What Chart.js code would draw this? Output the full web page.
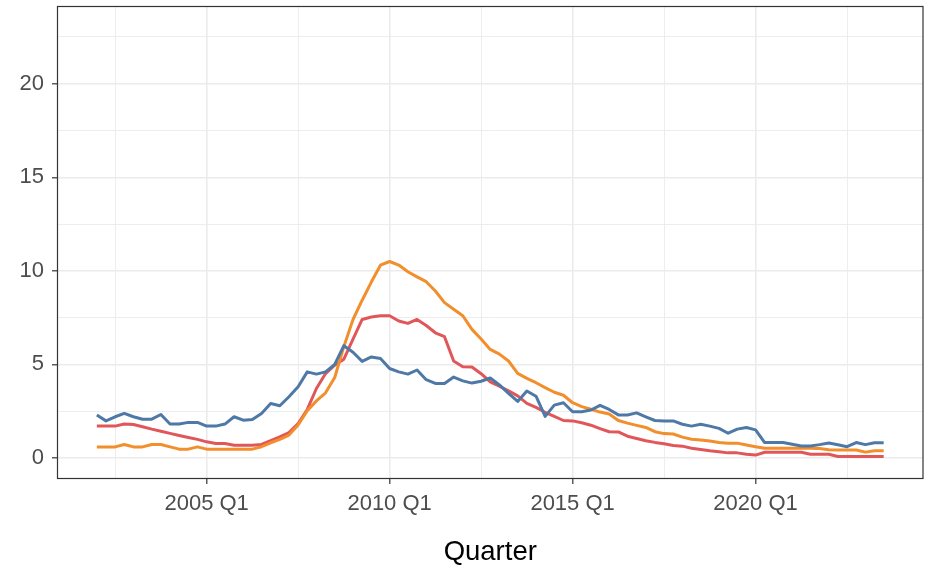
<!DOCTYPE html>
<html>
<head>
<meta charset="utf-8">
<script src="https://cdn.jsdelivr.net/npm/chart.js@4/dist/chart.umd.min.js"></script>
<style>
    html, body { margin: 0; padding: 0; background: #ffffff; }
    #wrap { width: 930px; height: 569px; }
</style>
</head>
<body>
<div id="wrap"><canvas id="chart"></canvas></div>
<script>
// quarters from 2002 Q1 to 2023 Q3
const firstYear = 2002;
const quarterCount = 87;
const quarters = [];
const quarterPos = [];
for (let i = 0; i < quarterCount; i++) {
    const year = firstYear + Math.floor(i / 4);
    const q = (i % 4) + 1;
    quarters.push(year + " Q" + q);
    quarterPos.push(year + (q - 1) / 4);
}

const blueSeries = [
    2.29, 1.98, 2.2, 2.38, 2.2, 2.07, 2.07, 2.32, 1.81, 1.81,
    1.9, 1.9, 1.7, 1.7, 1.81, 2.2, 2.02, 2.06, 2.38, 2.91,
    2.79, 3.27, 3.8, 4.6, 4.48, 4.6, 5.0, 6.0, 5.65, 5.16,
    5.4, 5.32, 4.78, 4.6, 4.48, 4.7, 4.18, 3.98, 3.98, 4.32,
    4.12, 4.0, 4.1, 4.27, 3.9, 3.45, 3.02, 3.58, 3.3, 2.22,
    2.82, 2.95, 2.47, 2.47, 2.56, 2.81, 2.59, 2.3, 2.29, 2.41,
    2.2, 2.0, 1.98, 1.98, 1.8, 1.7, 1.8, 1.7, 1.58, 1.32,
    1.54, 1.63, 1.5, 0.82, 0.82, 0.82, 0.73, 0.64, 0.64, 0.71,
    0.8, 0.7, 0.6, 0.82, 0.71, 0.81, 0.81
];
const orangeSeries = [
    0.59, 0.59, 0.59, 0.72, 0.59, 0.59, 0.72, 0.72, 0.59, 0.47,
    0.47, 0.59, 0.47, 0.47, 0.47, 0.47, 0.47, 0.47, 0.6, 0.81,
    0.99, 1.22, 1.76, 2.52, 3.05, 3.48, 4.3, 5.95, 7.4, 8.43,
    9.4, 10.3, 10.5, 10.31, 9.95, 9.68, 9.42, 8.92, 8.3, 7.95,
    7.6, 6.87, 6.36, 5.8, 5.55, 5.18, 4.52, 4.25, 4.02, 3.76,
    3.51, 3.35, 2.95, 2.74, 2.6, 2.45, 2.35, 2.0, 1.86, 1.74,
    1.63, 1.4, 1.3, 1.28, 1.11, 1.0, 0.96, 0.9, 0.83, 0.79,
    0.79, 0.69, 0.6, 0.52, 0.52, 0.52, 0.52, 0.52, 0.52, 0.5,
    0.44, 0.42, 0.42, 0.42, 0.31, 0.38, 0.38
];
const redSeries = [
    1.7, 1.7, 1.7, 1.81, 1.79, 1.67, 1.54, 1.43, 1.31, 1.2,
    1.09, 0.99, 0.86, 0.77, 0.77, 0.68, 0.68, 0.68, 0.72, 0.92,
    1.13, 1.35, 1.84, 2.59, 3.71, 4.51, 4.96, 5.28, 6.35, 7.4,
    7.53, 7.6, 7.6, 7.32, 7.19, 7.4, 7.08, 6.69, 6.48, 5.18,
    4.87, 4.86, 4.5, 4.07, 3.83, 3.58, 3.32, 2.92, 2.7, 2.44,
    2.22, 2.0, 1.98, 1.88, 1.75, 1.57, 1.4, 1.39, 1.16, 1.04,
    0.92, 0.83, 0.76, 0.66, 0.63, 0.52, 0.45, 0.38, 0.33, 0.27,
    0.27, 0.2, 0.15, 0.3, 0.3, 0.3, 0.3, 0.3, 0.2, 0.2,
    0.2, 0.08, 0.08, 0.08, 0.08, 0.08, 0.08
];

const xTicks = [2002.5, 2005, 2007.5, 2010, 2012.5, 2015, 2017.5, 2020, 2022.5];
const xTickLabels = ["", "2005 Q1", "", "2010 Q1", "", "2015 Q1", "", "2020 Q1", ""];
const yTicks = [0, 2.5, 5, 7.5, 10, 12.5, 15, 17.5, 20, 22.5];
const yTickLabels = ["0", "", "5", "", "10", "", "15", "", "20", ""];

function toPoints(values) {
    return values.map((v, i) => ({ x: quarterPos[i], y: v }));
}

const fontFamily = "'Liberation Sans', Arial, sans-serif";

// border round the panel, drawn on top like ggplot
const panelBorder = {
    id: "panelBorder",
    afterDraw(chart) {
        const a = chart.chartArea;
        const ctx = chart.ctx;
        ctx.save();
        ctx.strokeStyle = "#333333";
        ctx.lineWidth = 1.2;
        ctx.strokeRect(a.left, a.top, a.right - a.left, a.bottom - a.top);
        ctx.restore();
    },
};

function lineSet(label, values, color) {
    return {
        label: label,
        data: toPoints(values),
        borderColor: color,
        backgroundColor: color,
        borderWidth: 3,
        pointRadius: 0,
        tension: 0,
        borderJoinStyle: "round",
        fill: false,
    };
}

new Chart(document.getElementById("chart"), {
    type: "line",
    data: {
        datasets: [
            lineSet("blue", blueSeries, "#4E79A7"),
            lineSet("orange", orangeSeries, "#F28E2B"),
            lineSet("red", redSeries, "#E15759"),
        ],
    },
    options: {
        responsive: true,
        maintainAspectRatio: false,
        animation: false,
        layout: { padding: { left: 0, right: 7, top: 6.5, bottom: 0 } },
        plugins: {
            legend: { display: false },
            tooltip: { enabled: false },
        },
        scales: {
            x: {
                type: "linear",
                min: 2000.925,
                max: 2024.575,
                afterBuildTicks: (scale) => {
                    scale.ticks = xTicks.map((v) => ({ value: v }));
                },
                afterFit: (scale) => {
                    scale.height = 90.5;
                    scale.paddingLeft = 0;
                    scale.paddingRight = 0;
                },
                border: { display: false },
                grid: {
                    color: "#EBEBEB",
                    lineWidth: (ctx) => (xTickLabels[ctx.index] ? 1.6 : 0.9),
                    tickColor: (ctx) => (xTickLabels[ctx.index] ? "#333333" : "rgba(0,0,0,0)"),
                    tickWidth: 1.2,
                    tickLength: 5.5,
                },
                ticks: {
                    autoSkip: false,
                    maxRotation: 0,
                    padding: 7,
                    color: "#4D4D4D",
                    font: { family: fontFamily, size: 22 },
                    callback: (value, index) => xTickLabels[index],
                },
                title: {
                    display: true,
                    text: "Quarter",
                    color: "#000000",
                    font: { family: fontFamily, size: 27.5 },
                    padding: { top: 0, bottom: 0 },
                },
            },
            y: {
                min: -1.1,
                max: 24.13,
                afterBuildTicks: (scale) => {
                    scale.ticks = yTicks.map((v) => ({ value: v }));
                },
                afterFit: (scale) => {
                    scale.width = 57.5;
                    scale.paddingTop = 0;
                    scale.paddingBottom = 0;
                },
                border: { display: false },
                grid: {
                    color: "#EBEBEB",
                    lineWidth: (ctx) => (yTickLabels[ctx.index] ? 1.6 : 0.9),
                    tickColor: (ctx) => (yTickLabels[ctx.index] ? "#333333" : "rgba(0,0,0,0)"),
                    tickWidth: 1.2,
                    tickLength: 5.5,
                },
                ticks: {
                    autoSkip: false,
                    padding: 8,
                    color: "#4D4D4D",
                    font: { family: fontFamily, size: 22 },
                    callback: (value, index) => yTickLabels[index],
                },
            },
        },
    },
    plugins: [panelBorder],
});
</script>
</body>
</html>
